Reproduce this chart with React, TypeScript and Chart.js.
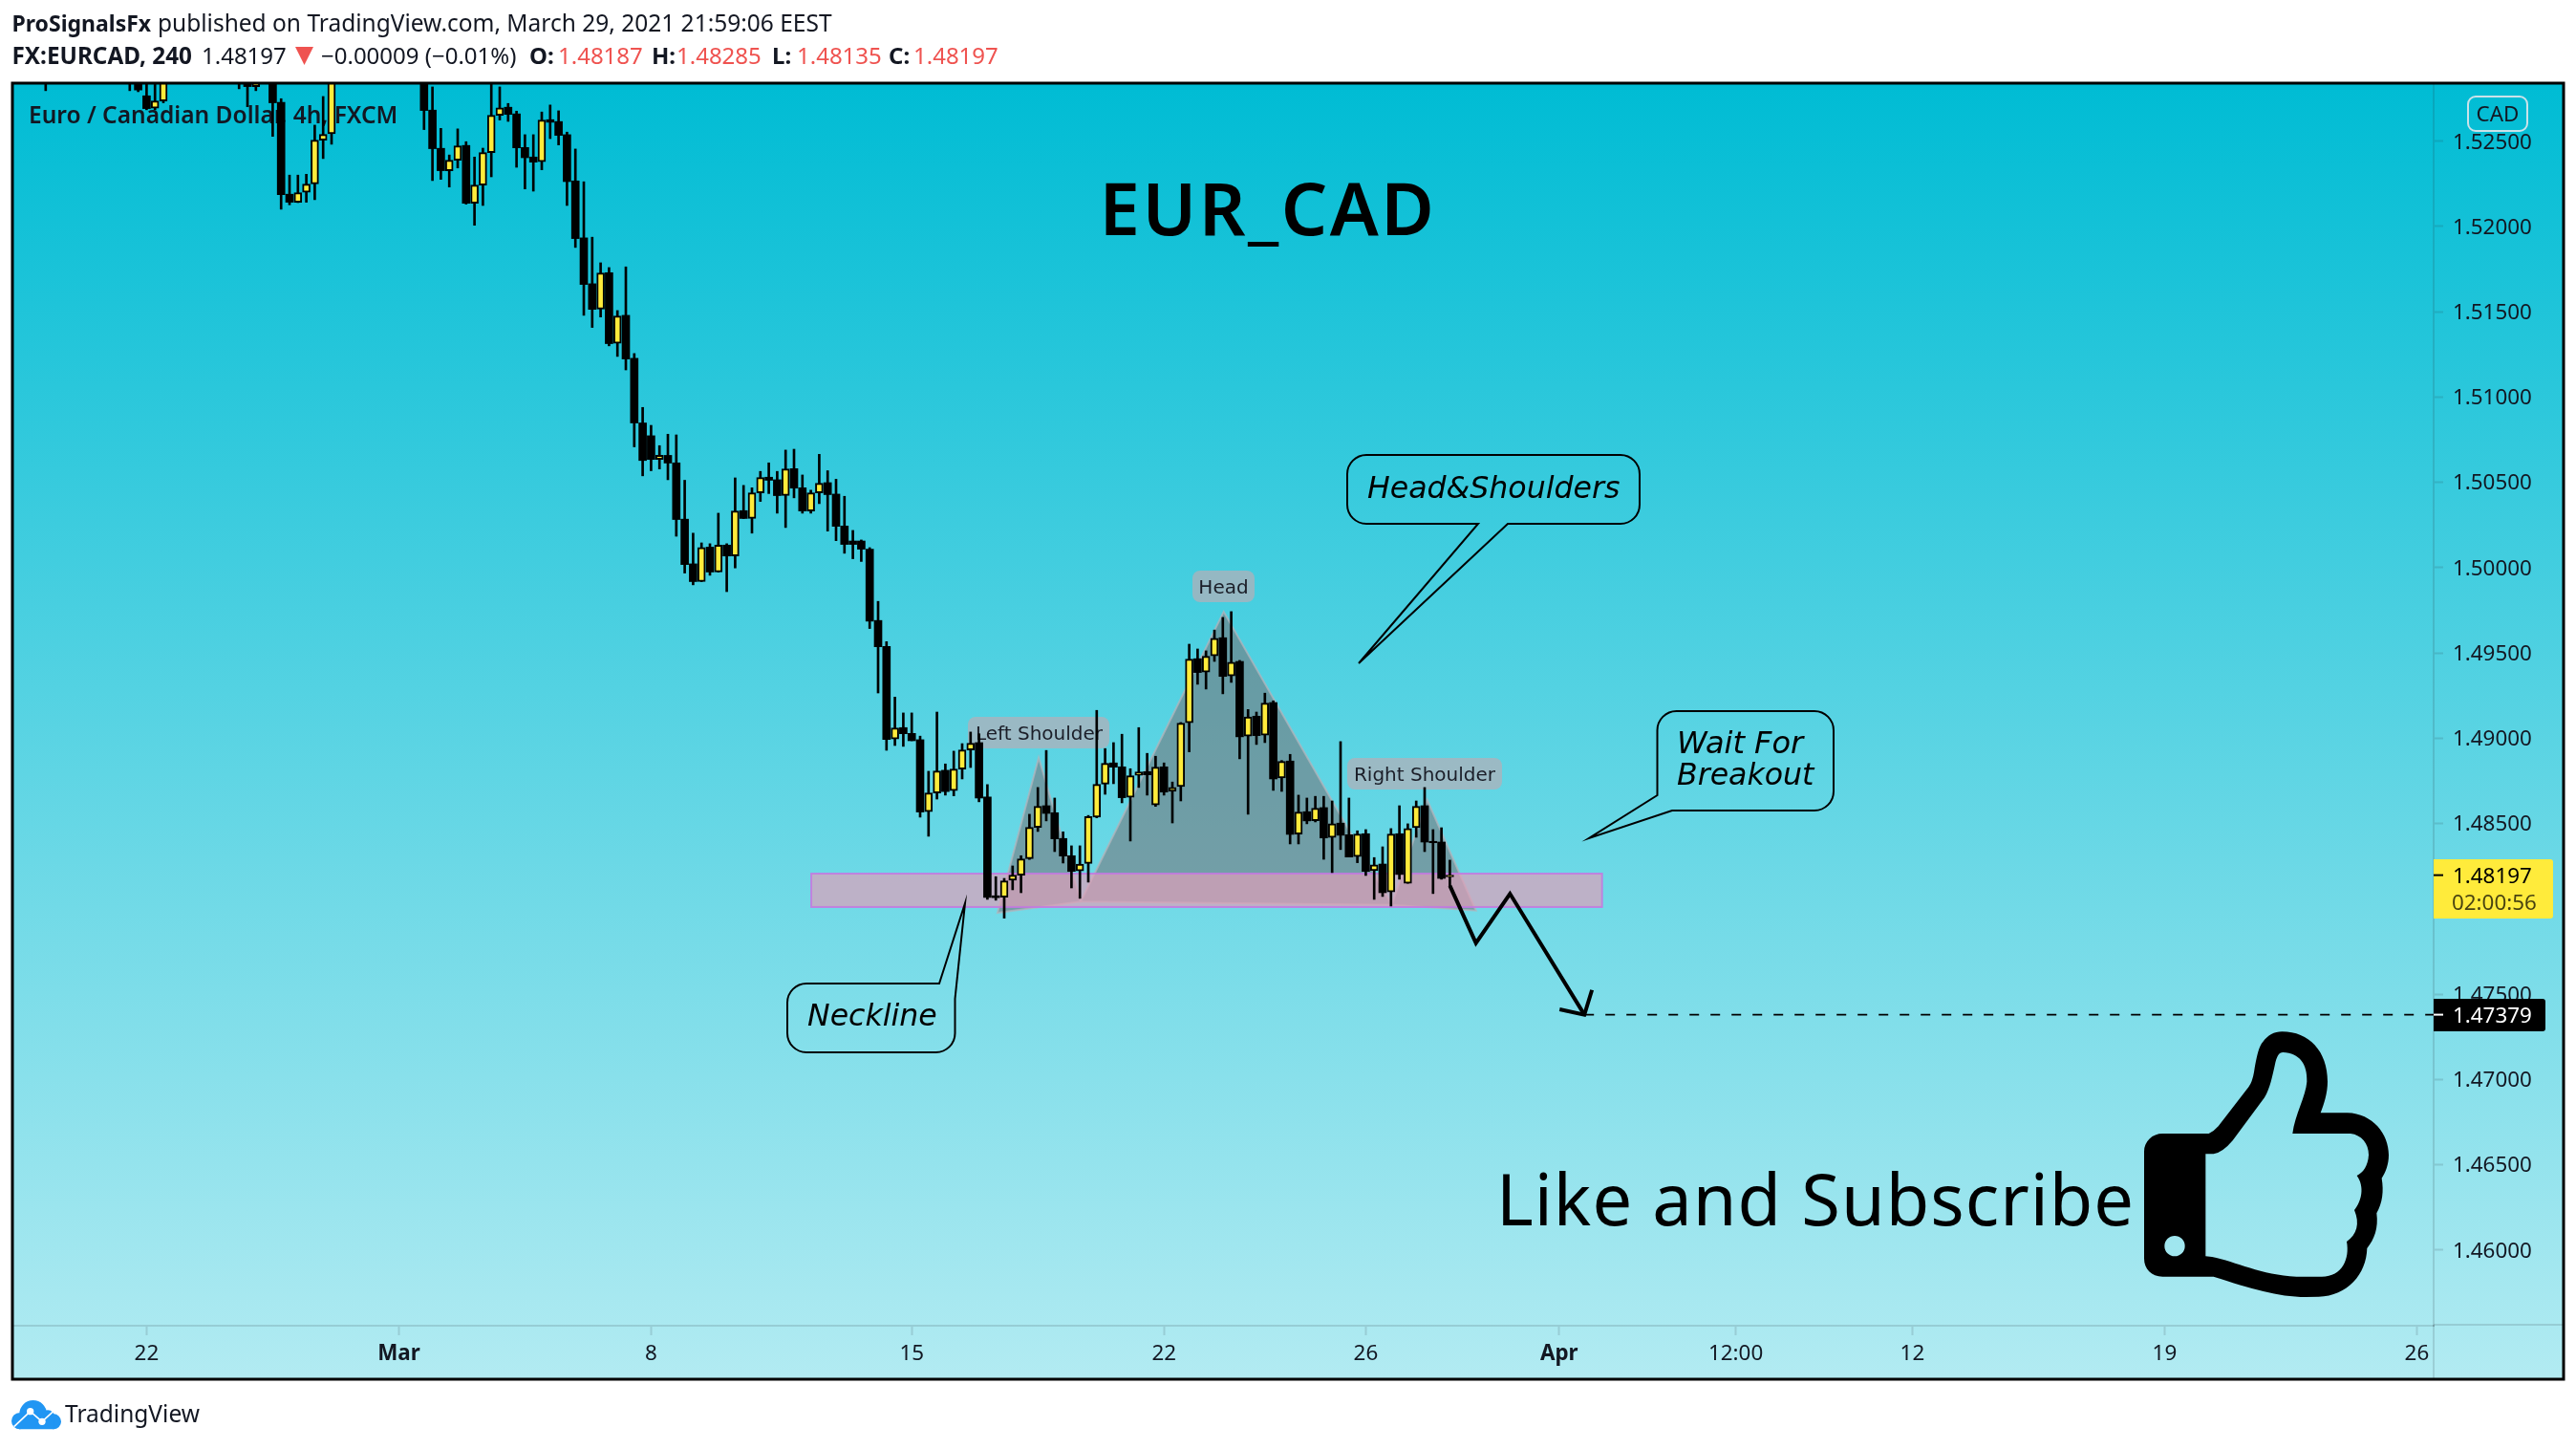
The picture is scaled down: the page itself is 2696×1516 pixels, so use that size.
import React, { useEffect, useRef } from "react";
import { Chart, registerables } from "chart.js";

Chart.register(...registerables);

const N = null;
// 4h candles, indexed by bar; null = bar lies entirely above the visible price range
const opens = [
  1.52936, N, N, N, N, N, N, N, N, N,
  1.52936, 1.52936, 1.52766, 1.52693, 1.52736, N, N, N, N, N,
  N, N, N, 1.52936, 1.52936, 1.5282, N, 1.52936, 1.52727, 1.52189,
  1.52142, 1.522, 1.5225, 1.52506, 1.52544, N, N, N, N, N,
  N, N, N, N, N, 1.52936, 1.52682, 1.52458, 1.52327, 1.52388,
  1.52475, 1.52136, 1.52243, 1.52433, 1.52652, 1.52699, 1.5266, 1.52463, 1.52407, 1.52379,
  1.52626, 1.52615, 1.52538, 1.52267, 1.51933, 1.51664, 1.51516, 1.51729, 1.51315, 1.51479,
  1.51227, 1.50848, 1.50773, 1.50634, 1.50658, 1.50614, 1.50284, 1.50022, 1.49918, 1.5012,
  1.49974, 1.50132, 1.50068, 1.50334, 1.50288, 1.50438, 1.5053, 1.50515, 1.50422, 1.5058,
  1.50468, 1.50332, 1.50438, 1.50498, 1.50431, 1.50244, 1.50156, 1.50156, 1.50108, 1.4969,
  1.49538, 1.48995, 1.49062, 1.49028, 1.48991, 1.48569, 1.48679, 1.48812, 1.48692, 1.48819,
  1.48931, 1.48974, 1.48655, 1.48076, 1.48068, 1.48167, 1.48197, 1.48294, 1.48477, 1.48604,
  1.48563, 1.48412, 1.48311, 1.48222, 1.48266, 1.48537, 1.48731, 1.48855, 1.48832, 1.48653,
  1.48782, 1.48804, 1.48608, 1.48832, 1.48688, 1.48716, 1.4909, 1.49466, 1.49387, 1.49482,
  1.49589, 1.49365, 1.4945, 1.49012, 1.49129, 1.49017, 1.49209, 1.48767, 1.48866, 1.48438,
  1.48569, 1.48516, 1.48593, 1.48418, 1.48502, 1.48434, 1.48306, 1.4844, 1.48223, 1.48262,
  1.48098, 1.4844, 1.48149, 1.48475, 1.48604, 1.48395, 1.48391, 1.48187,
];
const highs = [
  1.52992, N, N, N, N, N, N, N, N, N,
  1.52992, 1.52992, 1.52992, 1.52992, 1.52992, N, N, N, N, N,
  N, N, N, 1.52992, 1.52992, 1.52992, N, 1.52992, 1.52749, 1.52301,
  1.52301, 1.52306, 1.52594, 1.52762, 1.52992, N, N, N, N, N,
  N, N, N, N, N, 1.52992, 1.52818, 1.52575, 1.52419, 1.52572,
  1.52497, 1.52407, 1.52459, 1.5288, 1.52818, 1.52721, 1.52676, 1.52538, 1.52538, 1.52671,
  1.52712, 1.52678, 1.52553, 1.52454, 1.52262, 1.51937, 1.51787, 1.51759, 1.51507, 1.51763,
  1.51255, 1.50939, 1.50834, 1.50715, 1.50782, 1.50778, 1.50512, 1.50202, 1.50145, 1.5014,
  1.50319, 1.5014, 1.50526, 1.50482, 1.50468, 1.50564, 1.50614, 1.50564, 1.50689, 1.50694,
  1.50543, 1.50454, 1.50664, 1.50568, 1.50518, 1.50418, 1.50218, 1.50162, 1.50117, 1.49802,
  1.49566, 1.49241, 1.49148, 1.49148, 1.49012, 1.48806, 1.49153, 1.48849, 1.48924, 1.48968,
  1.49036, 1.49026, 1.48728, 1.48188, 1.48178, 1.48251, 1.48311, 1.48554, 1.48711, 1.48928,
  1.48649, 1.48451, 1.48369, 1.48369, 1.48547, 1.49163, 1.48939, 1.48974, 1.49023, 1.48821,
  1.49062, 1.48911, 1.48894, 1.48855, 1.48743, 1.49092, 1.49551, 1.49523, 1.49512, 1.49634,
  1.49708, 1.49742, 1.49456, 1.49168, 1.49153, 1.49264, 1.49219, 1.48869, 1.48905, 1.48666,
  1.48649, 1.48659, 1.48659, 1.48632, 1.4898, 1.48649, 1.48457, 1.48464, 1.483, 1.48363,
  1.4847, 1.48604, 1.48498, 1.48632, 1.48711, 1.48464, 1.48475, 1.48285,
];
const lows = [
  1.52796, N, N, N, N, N, N, N, N, N,
  1.52796, 1.5279, 1.52684, 1.52684, 1.52725, N, N, N, N, N,
  N, N, N, 1.52807, 1.52702, 1.52796, N, 1.52528, 1.52101, 1.52127,
  1.5214, 1.52142, 1.52157, 1.52398, 1.52482, N, N, N, N, N,
  N, N, N, N, N, 1.52568, 1.52269, 1.52276, 1.52231, 1.52343,
  1.52131, 1.52007, 1.52123, 1.52291, 1.52624, 1.52616, 1.52347, 1.5222, 1.52207, 1.52332,
  1.52515, 1.52478, 1.52123, 1.51877, 1.51479, 1.51408, 1.51469, 1.513, 1.51238, 1.51159,
  1.50708, 1.50538, 1.50568, 1.50578, 1.50515, 1.50184, 1.49968, 1.49899, 1.49918, 1.49955,
  1.49974, 1.49859, 1.49998, 1.50288, 1.50202, 1.50388, 1.50434, 1.50319, 1.50235, 1.50409,
  1.50319, 1.50319, 1.50375, 1.50214, 1.50158, 1.50084, 1.50052, 1.50036, 1.49643, 1.49265,
  1.48929, 1.48957, 1.48952, 1.48985, 1.48537, 1.48425, 1.48643, 1.48666, 1.48662, 1.48761,
  1.48828, 1.48627, 1.48055, 1.4805, 1.47945, 1.48111, 1.48094, 1.48289, 1.48453, 1.48515,
  1.48335, 1.48268, 1.48122, 1.48061, 1.48156, 1.48533, 1.48671, 1.48733, 1.48621, 1.48397,
  1.48711, 1.48666, 1.486, 1.48666, 1.48503, 1.48632, 1.4892, 1.49316, 1.49288, 1.4945,
  1.4926, 1.49327, 1.48879, 1.48554, 1.48963, 1.48974, 1.48694, 1.48688, 1.4838, 1.4838,
  1.48498, 1.48509, 1.4829, 1.48212, 1.48347, 1.48303, 1.4827, 1.48195, 1.48055, 1.48072,
  1.48016, 1.48173, 1.48149, 1.48419, 1.48335, 1.48089, 1.48173, 1.48135,
];
const closes = [
  1.52852, N, N, N, N, N, N, N, N, N,
  1.52852, 1.528, 1.52691, 1.52736, 1.52936, N, N, N, N, N,
  N, N, N, 1.52852, 1.5282, 1.52852, N, 1.52725, 1.52187, 1.52142,
  1.52198, 1.52248, 1.52506, 1.5254, 1.52936, N, N, N, N, N,
  N, N, N, N, N, 1.5268, 1.52456, 1.52327, 1.52388, 1.52472,
  1.52136, 1.52243, 1.52433, 1.52652, 1.52696, 1.52657, 1.52461, 1.52403, 1.52377, 1.52624,
  1.52611, 1.52534, 1.52263, 1.51929, 1.5166, 1.51514, 1.51727, 1.51313, 1.51475, 1.51223,
  1.50848, 1.50628, 1.50634, 1.50658, 1.50613, 1.50282, 1.50018, 1.49918, 1.50118, 1.49974,
  1.50132, 1.50068, 1.50332, 1.50288, 1.50438, 1.50528, 1.50512, 1.50422, 1.50578, 1.50466,
  1.50332, 1.50438, 1.50494, 1.50428, 1.50242, 1.50136, 1.50136, 1.50108, 1.49686, 1.49536,
  1.48993, 1.4906, 1.49026, 1.48985, 1.48567, 1.48679, 1.48808, 1.48687, 1.48819, 1.48931,
  1.4897, 1.48649, 1.48066, 1.48065, 1.48163, 1.48197, 1.48292, 1.48477, 1.486, 1.48559,
  1.4841, 1.48309, 1.48219, 1.48262, 1.48541, 1.48729, 1.48853, 1.4883, 1.48651, 1.4878,
  1.48802, 1.48785, 1.4883, 1.48684, 1.48712, 1.49088, 1.49463, 1.49385, 1.4948, 1.49585,
  1.49362, 1.49445, 1.49008, 1.49125, 1.49015, 1.49206, 1.48761, 1.48864, 1.48436, 1.48567,
  1.48515, 1.48589, 1.48415, 1.48498, 1.48431, 1.48303, 1.48438, 1.48219, 1.48257, 1.48094,
  1.48438, 1.48201, 1.48471, 1.486, 1.48391, 1.48387, 1.48178, 1.48197,
];

const priceTicks = [1.46, 1.465, 1.47, 1.475, 1.48, 1.485, 1.49, 1.495, 1.5, 1.505, 1.51, 1.515, 1.52, 1.525];
const timeTickBars = [12, 42, 72, 103, 133, 157, 180, 201, 222, 252, 282];
const timeTickLabels = ["22", "Mar", "8", "15", "22", "26", "Apr", "12:00", "12", "19", "26"];
const boldTimeLabels = ["Mar", "Apr"];

const lastPrice = 1.48197;
const targetPrice = 1.47379;
// pattern points: [bar, price]
const leftShoulderTri = [[113.2, 1.47976], [118.1, 1.48886], [123.1, 1.48042]];
const headTri = [[123.1, 1.48042], [140.1, 1.49741], [160.1, 1.48023]];
const rightShoulderTri = [[160.1, 1.48023], [164.3, 1.48639], [170.1, 1.47989]];
const necklineZone = { barFrom: 91.05, barTo: 185.1, priceTop: 1.48206, priceBottom: 1.4801 };
const forecastPath = [[167, 1.48135], [170.1, 1.47799], [174.15, 1.48088], [183, 1.47379]];
const forecastHead = [[180.05, 1.4741], [183, 1.47379], [183.9, 1.47524]];
const targetLine = [[183, 1.47379], [284, 1.47379]];

const SANS = '"Noto Sans"';
const DJ = '"DejaVu Sans"';
const INK = "#131722";

function txt(ctx: any, s: string, x: number, y: number, font: string, color = INK, align = "left") {
  ctx.font = font;
  ctx.fillStyle = color;
  ctx.textAlign = align;
  ctx.textBaseline = "alphabetic";
  ctx.fillText(s, x, y);
  return ctx.measureText(s).width;
}

function callout(ctx: any, pts: any[], r: number) {
  ctx.beginPath();
  const n = pts.length;
  for (let i = 0; i < n; i++) {
    const p = pts[i];
    if (p[2]) {
      const b = pts[(i + 1) % n];
      if (i === 0) {
        const dx = b[0] - p[0], dy = b[1] - p[1], l = Math.hypot(dx, dy);
        ctx.moveTo(p[0] + (dx / l) * r, p[1] + (dy / l) * r);
      } else {
        ctx.arcTo(p[0], p[1], b[0], b[1], r);
      }
    } else if (i === 0) ctx.moveTo(p[0], p[1]);
    else ctx.lineTo(p[0], p[1]);
  }
  const p0 = pts[0];
  if (p0[2]) ctx.arcTo(p0[0], p0[1], pts[1][0], pts[1][1], r);
  ctx.closePath();
  ctx.lineWidth = 2;
  ctx.lineJoin = "miter";
  ctx.strokeStyle = "#000";
  ctx.stroke();
}

function roundRect(ctx: any, x: number, y: number, w: number, h: number, r: any, fill: string) {
  ctx.beginPath();
  ctx.roundRect(x, y, w, h, r);
  ctx.fillStyle = fill;
  ctx.fill();
}

function drawThumb(ctx: any) {
  ctx.save();
  ctx.translate(2200, 1050);
  ctx.scale(1 / 3, 1 / 3);
  ctx.beginPath();
  ctx.moveTo(190, 408);
  ctx.lineTo(335, 408);
  ctx.quadraticCurveTo(350, 402, 365, 385);
  ctx.lineTo(460, 262);
  ctx.quadraticCurveTo(472, 245, 477, 215);
  ctx.bezierCurveTo(485, 165, 492, 135, 505, 120);
  ctx.bezierCurveTo(520, 100, 540, 88, 565, 88);
  ctx.bezierCurveTo(650, 88, 708, 150, 708, 245);
  ctx.bezierCurveTo(708, 280, 697, 315, 686, 343);
  ctx.lineTo(770, 343);
  ctx.bezierCurveTo(850, 345, 900, 410, 900, 475);
  ctx.bezierCurveTo(900, 505, 890, 530, 878, 548);
  ctx.bezierCurveTo(885, 590, 880, 625, 862, 658);
  ctx.bezierCurveTo(868, 705, 855, 740, 832, 768);
  ctx.bezierCurveTo(830, 850, 770, 918, 680, 920);
  ctx.lineTo(640, 921);
  ctx.bezierCurveTo(550, 920, 470, 895, 350, 857);
  ctx.lineTo(190, 857);
  ctx.bezierCurveTo(155, 857, 132, 832, 132, 800);
  ctx.lineTo(132, 465);
  ctx.bezierCurveTo(132, 432, 158, 408, 190, 408);
  ctx.closePath();
  ctx.moveTo(325, 472);
  ctx.lineTo(350, 472);
  ctx.quadraticCurveTo(378, 468, 410, 430);
  ctx.lineTo(510, 295);
  ctx.bezierCurveTo(528, 265, 535, 225, 542, 195);
  ctx.bezierCurveTo(548, 165, 555, 153, 568, 153);
  ctx.bezierCurveTo(620, 155, 645, 190, 643, 245);
  ctx.bezierCurveTo(640, 290, 605, 350, 598, 408);
  ctx.lineTo(780, 408);
  ctx.bezierCurveTo(815, 412, 837, 440, 837, 475);
  ctx.bezierCurveTo(835, 510, 820, 530, 800, 540);
  ctx.bezierCurveTo(825, 575, 815, 620, 792, 648);
  ctx.bezierCurveTo(810, 690, 800, 725, 768, 747);
  ctx.bezierCurveTo(778, 800, 755, 857, 690, 857);
  ctx.lineTo(610, 857);
  ctx.bezierCurveTo(500, 852, 420, 810, 345, 795);
  ctx.lineTo(325, 793);
  ctx.closePath();
  ctx.moveTo(260, 761);
  ctx.arc(228, 761, 32, 0, Math.PI * 2);
  ctx.closePath();
  ctx.fillStyle = "#000";
  ctx.fill("evenodd");
  ctx.restore();
}

function drawLogo(ctx: any) {
  ctx.save();
  ctx.translate(0, 1370);
  ctx.scale(1 / 3, 1 / 3);
  ctx.fillStyle = "#2196F3";
  ctx.beginPath();
  ctx.arc(104, 328, 43, 0, Math.PI * 2);
  ctx.arc(62, 350, 26, 0, Math.PI * 2);
  ctx.fill();
  ctx.beginPath();
  ctx.arc(150, 338, 22, 0, Math.PI * 2);
  ctx.fill();
  ctx.beginPath();
  ctx.arc(168, 352, 24, 0, Math.PI * 2);
  ctx.fill();
  ctx.beginPath();
  ctx.rect(60, 340, 110, 36);
  ctx.fill();
  ctx.strokeStyle = "#fff";
  ctx.lineWidth = 5;
  ctx.beginPath();
  ctx.moveTo(44, 368);
  ctx.lineTo(95, 320);
  ctx.lineTo(132, 352);
  ctx.lineTo(176, 312);
  ctx.stroke();
  ctx.fillStyle = "#fff";
  ctx.beginPath();
  ctx.arc(95, 320, 11, 0, Math.PI * 2);
  ctx.fill();
  ctx.beginPath();
  ctx.arc(132, 352, 11, 0, Math.PI * 2);
  ctx.fill();
  ctx.restore();
}

const underlay = {
  id: "underlay",
  beforeDraw(chart: any) {
    const ctx = chart.ctx;
    ctx.save();
    ctx.fillStyle = "#fff";
    ctx.fillRect(0, 0, chart.width, chart.height);
    const g = ctx.createLinearGradient(0, 88, 0, 1442);
    g.addColorStop(0, "#00BCD4");
    g.addColorStop(1, "#B2EBF2");
    ctx.fillStyle = g;
    ctx.fillRect(13, 88, 2670, 1354);
    ctx.strokeStyle = "rgba(42,46,57,0.15)";
    ctx.lineWidth = 2;
    ctx.beginPath();
    ctx.moveTo(2547, 1386);
    ctx.lineTo(2547, 1442);
    ctx.moveTo(2547, 1386);
    ctx.lineTo(2684, 1386);
    ctx.stroke();
    ctx.restore();
  },
  beforeDatasetsDraw(chart: any) {
    const ctx = chart.ctx;
    const { x, y } = chart.scales;
    const area = chart.chartArea;
    ctx.save();
    ctx.beginPath();
    ctx.rect(area.left, area.top, area.right - area.left, area.bottom - area.top);
    ctx.clip();
    txt(ctx, "Euro / Canadian Dollar, 4h, FXCM", 30, 129, `600 24.5px ${SANS}`, INK);
    for (const tri of [leftShoulderTri, headTri, rightShoulderTri]) {
      ctx.beginPath();
      tri.forEach((p, i) => {
        const px = x.getPixelForValue(p[0]);
        const py = y.getPixelForValue(p[1]);
        if (i === 0) ctx.moveTo(px, py);
        else ctx.lineTo(px, py);
      });
      ctx.closePath();
      ctx.fillStyle = "rgba(120,112,115,0.55)";
      ctx.fill();
      ctx.strokeStyle = "rgba(178,181,190,0.75)";
      ctx.lineWidth = 2;
      ctx.stroke();
    }
    const zx = x.getPixelForValue(necklineZone.barFrom);
    const zx2 = x.getPixelForValue(necklineZone.barTo);
    const zy = y.getPixelForValue(necklineZone.priceTop);
    const zy2 = y.getPixelForValue(necklineZone.priceBottom);
    ctx.fillStyle = "rgba(222,160,185,0.7)";
    ctx.fillRect(zx, zy, zx2 - zx, zy2 - zy);
    ctx.strokeStyle = "rgba(196,120,224,0.85)";
    ctx.lineWidth = 2;
    ctx.strokeRect(zx, zy, zx2 - zx, zy2 - zy);
    const lab = "rgba(176,176,186,0.75)";
    const f = `20px ${DJ}`;
    roundRect(ctx, 1248, 597, 65, 33, 8, lab);
    txt(ctx, "Head", 1280.5, 621, f, "#1b1e28", "center");
    roundRect(ctx, 1013, 750, 148, 33, 8, lab);
    txt(ctx, "Left Shoulder", 1087.5, 774, f, "#1b1e28", "center");
    roundRect(ctx, 1410, 793, 162, 33, 8, lab);
    txt(ctx, "Right Shoulder", 1491, 817, f, "#1b1e28", "center");
    ctx.restore();
  },
  afterDraw(chart: any) {
    const ctx = chart.ctx;
    const { y } = chart.scales;
    ctx.save();
    ctx.strokeStyle = "#000";
    ctx.lineWidth = 3;
    ctx.strokeRect(13, 87, 2670, 1356);

    const h = `24.5px ${SANS}`;
    const hb = `bold 24.3px ${SANS}`;
    txt(ctx, "ProSignalsFx", 12.5, 33, `bold 23px ${SANS}`);
    txt(ctx, "published on TradingView.com, March 29, 2021 21:59:06 EEST", 165, 33, h);
    txt(ctx, "FX:EURCAD, 240", 12.5, 67, hb);
    txt(ctx, "1.48197", 211, 67, `24px ${SANS}`);
    ctx.fillStyle = "#EF5350";
    ctx.beginPath();
    ctx.moveTo(309, 49);
    ctx.lineTo(328, 49);
    ctx.lineTo(318.5, 68);
    ctx.closePath();
    ctx.fill();
    txt(ctx, "\u22120.00009 (\u22120.01%)", 336, 67, `24px ${SANS}`);
    const red = "#EF5350";
    const row: [string, number, number, string][] = [
      ["O:", 554, 584, "1.48187"],
      ["H:", 682, 708, "1.48285"],
      ["L:", 808, 834, "1.48135"],
      ["C:", 930, 956, "1.48197"],
    ];
    for (const [k, px, vx, v] of row) {
      txt(ctx, k, px, 67, `bold 24px ${SANS}`);
      txt(ctx, v, vx, 67, `24px ${SANS}`, red);
    }

    // big text
    ctx.letterSpacing = "2.5px";
    txt(ctx, "EUR_CAD", 1327, 246, `600 76px ${SANS}`, "#000", "center");
    ctx.letterSpacing = "1px";
    txt(ctx, "Like and Subscribe", 1566, 1282, `74px ${SANS}`, "#000");
    ctx.letterSpacing = "0px";

    callout(
      ctx,
      [
        [1410, 476, 1],
        [1716, 476, 1],
        [1716, 548, 1],
        [1578, 548],
        [1422, 694],
        [1547, 548],
        [1410, 548, 1],
      ],
      20
    );
    txt(ctx, "Head&Shoulders", 1431, 521, `oblique 31.6px ${DJ}`, "#000");
    callout(
      ctx,
      [
        [1734.5, 744, 1],
        [1919, 744, 1],
        [1919, 848, 1],
        [1750, 848],
        [1663, 877],
        [1734.5, 832],
      ],
      20
    );
    txt(ctx, "Wait For", 1755, 788, `oblique 32px ${DJ}`, "#000");
    txt(ctx, "Breakout", 1755, 821, `oblique 31.6px ${DJ}`, "#000");
    callout(
      ctx,
      [
        [824, 1029, 1],
        [983, 1029],
        [1010, 945],
        [999.5, 1045],
        [999.5, 1101, 1],
        [824, 1101, 1],
      ],
      20
    );
    txt(ctx, "Neckline", 845, 1073, `oblique 31.6px ${DJ}`, "#000");

    drawThumb(ctx);

    const ax = `22.4px ${SANS}`;
    ctx.strokeStyle = "rgba(225,230,235,0.9)";
    ctx.lineWidth = 2;
    ctx.beginPath();
    ctx.roundRect(2583, 101, 62, 36, 8);
    ctx.stroke();
    txt(ctx, "CAD", 2614, 127, ax, INK, "center");

    const ly = y.getPixelForValue(lastPrice);
    roundRect(ctx, 2547, 899, 125, 62, [0, 3, 3, 0], "#FFEB3B");
    ctx.fillStyle = "#000";
    ctx.fillRect(2547, ly - 1, 10, 2);
    txt(ctx, lastPrice.toFixed(5), 2567, ly + 8, ax, "#000");
    txt(ctx, "02:00:56", 2566, 952, ax, "rgba(0,0,0,0.72)");

    const ty = y.getPixelForValue(targetPrice);
    roundRect(ctx, 2547, 1045, 117, 34, [0, 3, 3, 0], "#000");
    ctx.fillStyle = "#fff";
    ctx.fillRect(2547, ty - 1, 10, 2);
    txt(ctx, targetPrice.toFixed(5), 2567, ty + 8, ax, "#fff");

    drawLogo(ctx);
    txt(ctx, "TradingView", 68, 1488, `24.5px ${SANS}`);
    ctx.restore();
  },
};

const toXY = (pts: number[][]) => pts.map((p) => ({ x: p[0], y: p[1] }));

export default function App() {
  const ref = useRef<HTMLCanvasElement>(null);
  useEffect(() => {
    const wicks: any[] = [];
    const ups: any[] = [];
    const downs: any[] = [];
    opens.forEach((o, i) => {
      if (o === null) return;
      const c = closes[i] as number;
      wicks.push({ x: i, y: [lows[i], highs[i]] });
      const item = { x: i, y: [Math.min(o, c), Math.max(o, c)] };
      (c >= o ? ups : downs).push(item);
    });
    const lineBase = { type: "line", pointRadius: 0, tension: 0, borderColor: "#000", fill: false, order: 1 };
    const chart = new Chart(ref.current as HTMLCanvasElement, {
      type: "bar",
      data: {
        datasets: [
          { data: wicks, backgroundColor: "#000", barThickness: 2, grouped: false, order: 4 },
          {
            data: ups,
            backgroundColor: "#FFEB3B",
            borderColor: "#000",
            borderWidth: 2,
            borderSkipped: false,
            barThickness: 8,
            grouped: false,
            order: 3,
          },
          { data: downs, backgroundColor: "#000", barThickness: 8, grouped: false, order: 3 },
          { ...lineBase, data: toXY(forecastPath), borderWidth: 4, borderJoinStyle: "miter" },
          { ...lineBase, data: toXY(forecastHead), borderWidth: 4, borderJoinStyle: "miter" },
          { ...lineBase, data: toXY(targetLine), borderWidth: 1.6, borderDash: [10, 12] },
        ] as any,
      },
      options: {
        animation: false,
        responsive: false,
        events: [],
        layout: { padding: { left: 14, top: 88, right: 12, bottom: 74 } },
        plugins: { legend: { display: false }, tooltip: { enabled: false }, title: { display: false } },
        scales: {
          x: {
            type: "linear",
            offset: false,
            min: -3.841,
            max: 284,
            grid: {
              offset: false,
              drawOnChartArea: false,
              drawTicks: true,
              tickLength: 10,
              tickWidth: 2,
              tickColor: "rgba(42,46,57,0.15)",
            },
            border: { display: true, color: "rgba(42,46,57,0.15)", width: 2 },
            afterBuildTicks: (s: any) => {
              s.ticks = timeTickBars.map((v) => ({ value: v }));
            },
            afterFit: (s: any) => {
              s.height = 55;
            },
            ticks: {
              autoSkip: false,
              maxRotation: 0,
              padding: 6,
              color: INK,
              callback: (v: any) => timeTickLabels[timeTickBars.indexOf(v)],
              font: (c: any) => ({
                family: SANS,
                size: 22.4,
                weight: c.tick && boldTimeLabels.includes(c.tick.label) ? "bold" : "normal",
              }),
            },
          },
          y: {
            position: "right",
            min: 1.455556,
            max: 1.528345,
            grid: {
              drawOnChartArea: false,
              drawTicks: true,
              tickLength: 10,
              tickWidth: 2,
              tickColor: "rgba(42,46,57,0.15)",
            },
            border: { display: true, color: "rgba(42,46,57,0.15)", width: 2 },
            afterBuildTicks: (s: any) => {
              s.ticks = priceTicks.map((v) => ({ value: v }));
            },
            afterFit: (s: any) => {
              s.width = 137;
            },
            ticks: {
              autoSkip: false,
              padding: 10,
              labelOffset: 1.5,
              color: INK,
              font: { family: SANS, size: 22.4 },
              callback: (v: any) => Number(v).toFixed(5),
            },
          },
        },
      } as any,
      plugins: [underlay],
    } as any);
    return () => chart.destroy();
  }, []);
  return (
    <div style={{ position: "absolute", left: 0, top: 0, width: 2696, height: 1516, background: "#fff" }}>
      <canvas ref={ref} width={2696} height={1516} style={{ display: "block", width: 2696, height: 1516 }} />
    </div>
  );
}
